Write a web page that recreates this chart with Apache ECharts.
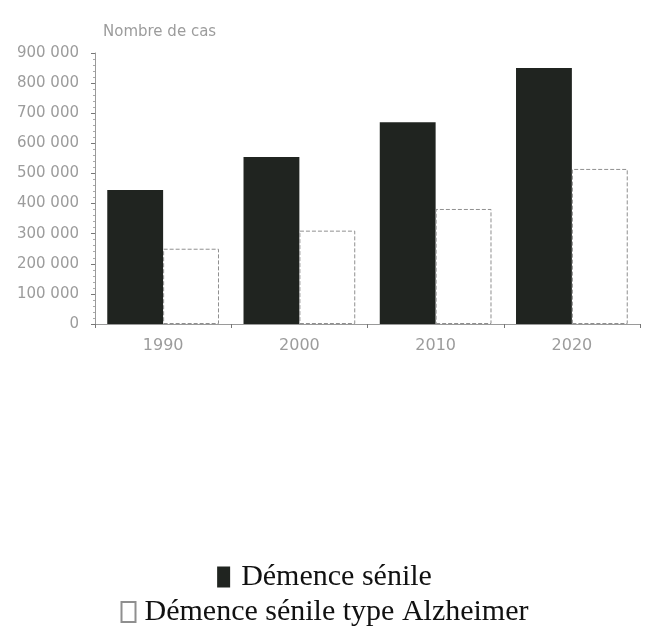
<!DOCTYPE html>
<html>
<head>
<meta charset="utf-8">
<script src="https://cdn.jsdelivr.net/npm/echarts@6/dist/echarts.min.js"></script>
<style>
html,body{margin:0;padding:0;background:#fff;}
#chart{width:649px;height:629px;}
</style>
</head>
<body>
<div id="chart"></div>
<script>
const categories = ['1990', '2000', '2010', '2020'];
const demenceSenile = [445000, 555000, 670000, 850000];
const alzheimer = [250000, 310000, 382000, 515000];
const seriesNames = ['Démence sénile', 'Démence sénile type Alzheimer'];
const yAxisTitle = 'Nombre de cas';

const chart = echarts.init(document.getElementById('chart'));
chart.setOption({
  backgroundColor: '#ffffff',
  animation: false,
  grid: { left: 95, right: 9, top: 53, bottom: 305, containLabel: false },
  title: {
    text: yAxisTitle,
    left: 98, top: 20,
    textStyle: { fontFamily: 'DejaVu Sans', fontSize: 15, fontWeight: 'normal', color: '#9c9c9c' }
  },
  legend: [
    {
      data: [seriesNames[0]],
      left: 'center', top: 557,
      icon: 'rect', itemWidth: 13, itemHeight: 21,
      textStyle: { fontFamily: 'Liberation Serif', fontSize: 30, color: '#111', padding: [0, 0, 0, 6] }
    },
    {
      data: [seriesNames[1]],
      left: 'center', top: 592,
      icon: 'rect', itemWidth: 14, itemHeight: 20,
      textStyle: { fontFamily: 'Liberation Serif', fontSize: 30, color: '#111', padding: [0, 0, 0, 4] }
    }
  ],
  xAxis: {
    type: 'category',
    data: categories,
    axisLine: { lineStyle: { color: '#9a9a9a', width: 1 } },
    axisTick: { show: true, length: 4, lineStyle: { color: '#777' } },
    axisLabel: { fontFamily: 'DejaVu Sans', fontSize: 16, color: '#9c9c9c', margin: 14 }
  },
  yAxis: {
    type: 'value',
    min: 0, max: 900000, interval: 100000,
    axisLine: { show: true, lineStyle: { color: '#9a9a9a', width: 1 } },
    axisTick: { show: true, length: 4, lineStyle: { color: '#777' } },
    minorTick: { show: true, splitNumber: 5, length: 2, lineStyle: { color: '#aaa' } },
    splitLine: { show: false },
    axisLabel: {
      fontFamily: 'DejaVu Sans', fontSize: 15, color: '#9c9c9c', margin: 16,
      formatter: v => v === 0 ? '0' : String(v).replace(/\B(?=(\d{3})+(?!\d))/g, ' ')
    }
  },
  series: [
    {
      name: seriesNames[0],
      type: 'bar',
      data: demenceSenile,
      barGap: '0%',
      barCategoryGap: '18%',
      itemStyle: { color: '#202420', borderWidth: 0 }
    },
    {
      name: seriesNames[1],
      type: 'bar',
      data: alzheimer,
      barGap: '0%',
      barCategoryGap: '18%',
      itemStyle: { color: '#ffffff', borderColor: '#8f8f8f', borderWidth: 1, borderType: 'dashed' }
    }
  ]
});
</script>
</body>
</html>
